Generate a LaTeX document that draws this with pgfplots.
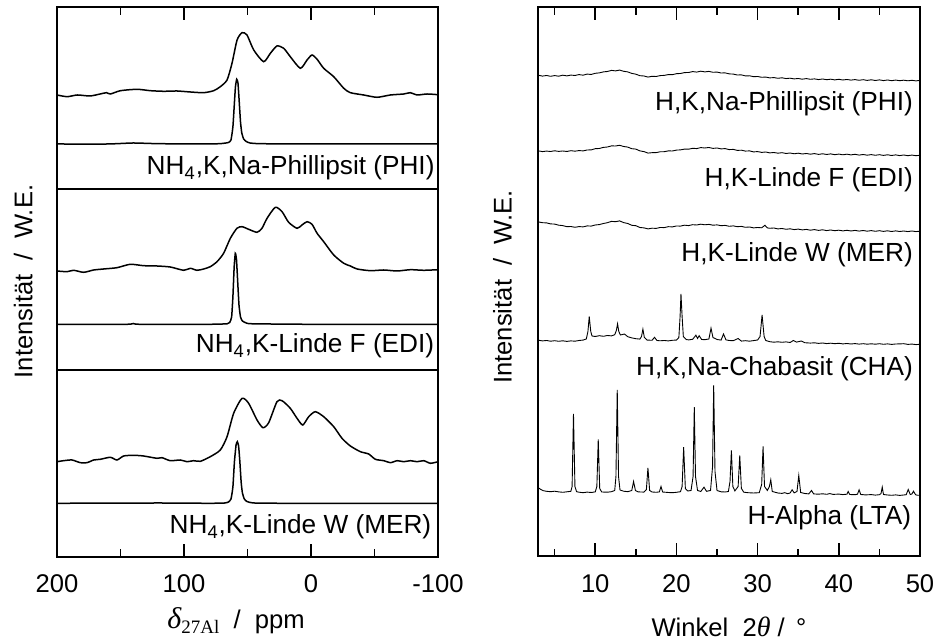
\documentclass[border=0pt]{standalone}
\usepackage{fontspec}
\setmainfont{Liberation Sans}
\newfontfamily\serif{Liberation Serif}
\usepackage{pgfplots}
\pgfplotsset{compat=1.18}
\tikzset{lab/.style={anchor=base east, font=\fontsize{13.1}{14}\selectfont, inner sep=0pt}}
\begin{document}
\begin{tikzpicture}
\path[use as bounding box] (0,0) rectangle (468pt,320.5pt);
\pgfplotsset{
  common/.style={
    scale only axis, anchor=south west,
    axis line style={line width=1pt},
    ytick=\empty,
    tick align=inside,
    major tick length=6.5pt, minor tick length=3.8pt,
    every tick/.style={black, line width=0.8pt},
    tick label style={font=\fontsize{12.8}{14}\selectfont},
    xticklabel style={anchor=base, yshift=-18pt},
    /pgf/number format/assume math mode=true,
  },
}
% ---------------- left panel: 27Al NMR ----------------
\begin{axis}[common, at={(28.5pt,42pt)}, width=190.5pt, height=275pt,
  x dir=reverse, xmin=-100, xmax=200, ymin=0, ymax=550,
  xtick={-100,0,100,200}, xticklabels={-100,0,100,200},
  minor xtick={-50,50,150}]
% dividers
\draw[line width=1pt] (axis cs:200,368) -- (axis cs:-100,368);
\draw[line width=1pt] (axis cs:200,187) -- (axis cs:-100,187);
% PHI broad
\addplot[black, line width=0.75pt, smooth, tension=0.4] coordinates {
(200,462) (192,460.3) (184,462) (174,461) (166,463) (161,464.3) (158,463) (150,466.3)
(137,467.7) (126.5,466.3) (116,465.7) (105.5,466) (95,465) (84.5,464.3) (76.6,466.3)
(71.4,470.3) (66.1,477) (62.2,493.7) (58.2,517) (54.3,524.3) (50.4,522) (45.1,507)
(37.3,495.3) (32,503.7) (26.8,511) (21.5,508.7) (16.3,500.3) (8.4,488.7) (3.1,497)
(-0.8,502) (-4.8,497.7) (-10,488.7) (-17.9,480.3) (-25.8,468.7) (-31,464.3) (-41.5,462)
(-52,459.7) (-62.5,462) (-73,463) (-78.3,464.3) (-83.5,462) (-91.4,463) (-100,462.3)};
% PHI sharp
\addplot[black, line width=0.75pt, smooth, tension=0.3] coordinates {
(200,413) (160,413) (140,414) (120,413.3) (80,413) (70,413.5) (65,414.5) (63,417)
(61.5,430) (60.5,450) (59.5,470) (58.5,477.7) (57.5,474) (56.5,455) (55.5,435) (54.5,424)
(53,418) (51,415.5) (48,414) (40,413.3) (0,413) (-100,413)};
% EDI broad
\addplot[black, line width=0.75pt, smooth, tension=0.4] coordinates {
(200,286) (192.1,285.3) (186.9,286.7) (179,284.7) (171.1,287) (163.3,288) (152.8,289.3)
(142.3,292.7) (131.8,291.3) (121.3,291) (110.8,290) (100.3,286.7) (95,288.7) (89.8,286.7)
(84.5,288) (79.3,290.3) (74,295.3) (68.8,303.7) (63.5,318.7) (58.3,328.7) (54.3,330.3)
(49.1,327.7) (42.5,324.7) (38.6,328.7) (34.6,338.7) (28.1,349.7) (22.8,345.3) (17.6,334.7)
(11,328.7) (7.1,332) (3.1,335.3) (-0.8,332.7) (-4.8,323.7) (-10,315.3) (-17.9,302)
(-25.8,293.7) (-31,291) (-36.3,288) (-46.8,286.3) (-57.3,287) (-67.8,286) (-78.3,287.3)
(-88.8,286.7) (-100,287.3)};
% EDI sharp
\addplot[black, line width=0.75pt, smooth, tension=0.3] coordinates {
(200,232.7) (145,232.7) (140,233.5) (135,232.7) (80,232.7) (66,233.2) (64,234.5) (62.5,240)
(61.5,260) (60.5,290) (59.6,303.7) (58.7,298) (57.7,275) (56.7,252) (55.5,240) (54,236)
(51,234) (46,233.2) (0,232.7) (-100,232.7)};
% MER broad
\addplot[black, line width=0.75pt, smooth, tension=0.4] coordinates {
(200,95.3) (194.8,96.3) (188.2,97) (181.6,94.3) (176.4,94.3) (171.1,97) (165.9,97.7)
(158,99.7) (152.8,97) (147.5,101) (139.6,101.7) (131.8,101) (121.3,98.7) (117.3,99.3)
(110.8,96.3) (102.9,97) (97.6,95.3) (92.4,96.3) (87.1,95.7) (79.3,100.3) (71.4,107)
(66.1,120.3) (60.9,143.7) (54.3,158.7) (49.1,153.7) (42.5,137) (37.8,129.3) (33.3,134.3)
(26.8,155.3) (22.8,156.3) (16.3,148.7) (11,138.7) (6.5,132) (1.8,140.3) (-3.4,145.3)
(-10,140.3) (-17.9,130.3) (-24.4,118.7) (-31,111) (-38.9,105.3) (-45.4,103) (-50.7,97.7)
(-57.3,96.3) (-62.5,94.3) (-67.8,96.3) (-73,95.3) (-78.3,96.3) (-83.5,95.3) (-88.8,96.3)
(-94,93.7) (-100,95.3)};
% MER sharp
\addplot[black, line width=0.75pt, smooth, tension=0.3] coordinates {
(200,53.7) (120,54) (80,53.7) (68,54) (65,55) (63,58) (61.5,70) (60.3,95) (59,112)
(58,115.3) (57,111) (56,95) (55,75) (54,64) (52.5,58) (50.5,55.5) (47,54.3) (40,53.8)
(0,53.7) (-100,53.7)};
\node[lab] at (axis cs:-97.6,382) {NH\textsubscript{4},K,Na-Phillipsit (PHI)};
\node[lab] at (axis cs:-97.3,204.3) {NH\textsubscript{4},K-Linde F (EDI)};
\node[lab] at (axis cs:-95,23) {NH\textsubscript{4},K-Linde W (MER)};
\end{axis}
% ---------------- right panel: XRD ----------------
\begin{axis}[common, at={(269.2pt,42.25pt)}, width=190.8pt, height=274.75pt,
  xmin=3, xmax=50, ymin=0, ymax=549.5,
  xtick={10,20,30,40,50}, minor xtick={5,15,25,35,45}]
% PHI
\addplot[black, line width=0.45pt] coordinates {
(3,481.2) (3.5,480.4) (4,481.0) (4.5,480.2) (5,480.9) (5.5,480.3) (6,481.3) (6.5,480.6)
(7,481.4) (7.5,481.0) (8,481.9) (8.5,481.3) (9,482.4) (9.5,482.0) (10,483.2) (10.5,483.6)
(11,484.6) (11.5,485.0) (12,486.1) (12.5,485.6) (13,486.4) (13.5,485.2) (14,484.6) (14.5,483.1)
(15,482.3) (15.5,480.8) (16,480.5) (16.5,479.4) (17,480.2) (17.5,480.0) (18,480.9) (18.5,481.1)
(19,481.9) (19.5,481.8) (20,482.8) (20.5,483.0) (21,483.9) (21.5,484.0) (22,484.9) (22.5,484.4)
(23,485.3) (23.5,484.6) (24,485.1) (24.5,484.2) (25,484.4) (25.5,483.5) (26,483.6) (26.5,482.6)
(27,482.4) (27.5,481.5) (28,481.6) (28.5,480.6) (29,480.7) (29.5,479.8) (30,480.0) (30.5,479.2)
(31,479.4) (31.5,478.6) (32,478.9) (32.5,478.2) (33,478.7) (33.5,477.9) (34,478.3) (34.5,477.6)
(35,478.0) (35.5,477.3) (36,477.9) (36.5,477.2) (37,477.6) (37.5,476.9) (38,477.5) (38.5,476.8)
(39,477.3) (39.5,476.6) (40,477.2) (40.5,476.5) (41,477.0) (41.5,476.4) (42,476.9) (42.5,476.2)
(43,476.8) (43.5,476.1) (44,476.7) (44.5,476.0) (45,476.6) (45.5,475.9) (46,476.5) (46.5,475.8)
(47,476.4) (47.5,475.8) (48,476.3) (48.5,475.7) (49,476.2) (49.5,475.6) (50,476.1)};
% EDI
\addplot[black, line width=0.45pt] coordinates {
(3,405.6) (3.5,404.9) (4,405.4) (4.5,405.0) (5,405.7) (5.5,405.1) (6,405.5) (6.5,405.0)
(7,405.8) (7.5,405.3) (8,405.9) (8.5,405.6) (9,406.5) (9.5,406.6) (10,407.8) (10.5,408.0)
(11,409.1) (11.5,409.5) (12,410.6) (12.5,410.5) (13,411.2) (13.5,410.0) (14,409.4) (14.5,407.8)
(15,407.4) (15.5,405.6) (16,404.9) (16.5,403.4) (17,403.8) (17.5,403.9) (18,404.7) (18.5,404.8)
(19,405.6) (19.5,405.5) (20,406.4) (20.5,406.6) (21,407.4) (21.5,407.3) (22,408.2) (22.5,407.9)
(23,408.9) (23.5,408.5) (24,409.0) (24.5,408.1) (25,408.5) (25.5,407.6) (26,407.9) (26.5,406.9)
(27,407.1) (27.5,406.1) (28,406.3) (28.5,405.4) (29,405.6) (29.5,404.6) (30,404.9) (30.5,404.1)
(31,404.5) (31.5,403.6) (32,404.0) (32.5,403.3) (33,403.8) (33.5,403.0) (34,403.5) (34.5,402.7)
(35,403.3) (35.5,402.5) (36,403.0) (36.5,402.3) (37,402.9) (37.5,402.1) (38,402.7) (38.5,402.0)
(39,402.6) (39.5,401.8) (40,402.4) (40.5,401.7) (41,402.3) (41.5,401.6) (42,402.2) (42.5,401.4)
(43,402.0) (43.5,401.3) (44,401.9) (44.5,401.2) (45,401.8) (45.5,401.1) (46,401.7) (46.5,401.0)
(47,401.6) (47.5,400.9) (48,401.5) (48.5,400.8) (49,401.4) (49.5,400.8) (50,401.2)};
% MER
\addplot[black, line width=0.45pt] coordinates {
(3,334.6) (3.5,333.8) (4,333.6) (4.5,332.6) (5,332.4) (5.5,331.3) (6,330.9) (6.5,329.8)
(7,330.0) (7.5,329.2) (8,329.9) (8.5,329.6) (9,330.6) (9.5,330.4) (10,331.5) (10.5,331.9)
(11,333.0) (11.5,333.8) (12,335.1) (12.5,334.8) (13,335.6) (13.5,333.9) (14,333.0) (14.5,331.2)
(15,330.8) (15.5,329.0) (16,328.6) (16.5,327.6) (17,328.3) (17.5,328.1) (18,329.0) (18.5,328.9)
(19,329.8) (19.5,329.6) (20,330.5) (20.5,330.4) (21,331.3) (21.5,330.9) (22,331.8) (22.5,331.5)
(23,332.3) (23.5,331.7) (24,332.1) (24.5,331.3) (25,331.6) (25.5,330.8) (26,331.1) (26.5,330.2)
(27,330.6) (27.5,329.8) (28,330.1) (28.5,329.2) (29,329.5) (29.5,328.6) (30,329.0) (30.5,328.7)
(30.9,331.2) (31.2,328.6) (31.5,328.2) (32,328.5) (32.5,327.6) (33,328.0) (33.5,327.2) (34,327.7)
(34.5,326.9) (35,327.4) (35.5,326.6) (36,327.1) (36.5,326.3) (37,326.9) (37.5,326.1) (38,326.7)
(38.5,325.9) (39,326.5) (39.5,325.8) (40,326.3) (40.5,325.6) (41,326.2) (41.5,325.5) (42,326.1)
(42.5,325.4) (43,326.0) (43.5,325.3) (44,325.9) (44.5,325.2) (45,325.8) (45.5,325.1) (46,325.7)
(46.5,325.0) (47,325.6) (47.5,325.0) (48,325.5) (48.5,324.9) (49,325.5) (49.5,324.9) (50,325.3)};
% CHA
\addplot[black, line width=0.45pt] coordinates {
(3,216.3) (3.5,215.6) (4,216.0) (4.5,215.3) (5,215.8) (5.5,215.2) (6,215.7) (6.5,215.1)
(7,215.6) (7.5,215.3) (8,216.0) (8.5,216.4) (8.9,217.5) (9.1,225) (9.26,240) (9.45,225)
(9.6,220.5) (10,220.0) (10.5,220.8) (11,220.2) (11.5,221.0) (12,220.6) (12.4,221.8) (12.6,226)
(12.75,232.7) (12.9,225) (13.1,221.5) (13.6,222.5) (14,219.8) (14.5,218.6) (15,217.8) (15.5,217.4)
(15.7,220) (15.87,227.3) (16.05,219) (16.4,216.4) (17,216.2) (17.3,219.2) (17.6,216.0) (18,215.7)
(18.5,216.0) (19,215.6) (19.5,216.2) (20,216.4) (20.3,219) (20.45,240) (20.56,262.5) (20.7,240)
(20.85,220) (21.2,217.0) (21.5,216.6) (22,217.2) (22.4,221.3) (22.6,218) (22.8,220.8) (23.1,217.0)
(23.5,216.8) (24,217.5) (24.26,228.3) (24.5,219) (25,217) (25.5,216.4) (25.8,222.5) (26.1,216.6)
(26.5,216.0) (27,215.8) (27.6,218) (28,215.4) (28.5,215.8) (29,215.3) (29.5,215.9) (30,216.5)
(30.3,220) (30.55,241.5) (30.8,220) (31,216) (31.5,214.8) (32,214.3) (32.5,214.7) (33,214.2)
(33.5,214.6) (34,214.0) (34.4,216) (34.8,214.4) (35.4,215.5) (35.8,213.8) (36.5,213.4) (37,213.7)
(37.5,213.1) (38,213.5) (38.5,212.9) (39,213.3) (39.5,212.8) (40,213.2) (40.5,212.6) (41,213.0)
(41.5,212.5) (42,212.9) (42.5,212.4) (43,212.8) (43.5,212.3) (44,212.7) (44.5,212.3) (45,212.8)
(45.5,212.2) (46,212.6) (46.5,212.1) (47,212.5) (47.5,212.6) (48,212.8) (48.5,212.1) (49,212.4)
(49.5,211.9) (50,212.2)};
% LTA
\addplot[black, line width=0.45pt] coordinates {
(3,68.7) (3.3,67.0) (3.6,65.8) (4,65.2) (4.5,64.8) (5,65.3) (5.5,64.6) (6,64.2) (6.5,64.7)
(7,65.2) (7.15,70) (7.32,142.7) (7.5,70) (7.7,64.8) (8,64.3) (8.5,63.8) (9,64.4) (9.5,64.0)
(10,64.6) (10.2,70) (10.37,117) (10.55,68) (10.8,64.5) (11.5,64.3) (12,64.8) (12.4,66)
(12.55,80) (12.71,166.7) (12.87,80) (13.05,66.5) (13.5,65.3) (14,64.8) (14.5,66) (14.72,75)
(14.95,66) (15.3,64.6) (16,64.4) (16.3,67) (16.49,88.7) (16.7,66) (17,64.5) (17.5,64.2)
(17.9,64.6) (18.1,70) (18.3,64.5) (19,64.0) (19.5,63.8) (20,64.2) (20.5,64.8) (20.7,70)
(20.89,109.3) (21.1,68) (21.4,65.5) (21.8,66) (22.05,80) (22.2,149.3) (22.35,80) (22.6,66)
(23,65) (23.4,69.3) (23.7,65.2) (24.2,66) (24.45,90) (24.59,171) (24.75,85) (25,66)
(25.5,64.7) (26,64.5) (26.4,65) (26.6,75) (26.77,106) (26.95,70) (27.2,65.6) (27.6,70)
(27.8,101) (28,68) (28.3,64.3) (28.8,63.8) (29.5,63.5) (30.2,63.8) (30.5,72) (30.67,110)
(30.85,70) (31.2,66) (31.45,70) (31.62,76.7) (31.8,65) (32.5,63.5) (33,63.1) (33.35,63.8)
(33.7,62.8) (34,63.5) (34.25,66.7) (34.5,63.6) (34.85,65) (35.07,81) (35.3,64) (35.8,63.0)
(36.3,62.6) (36.64,66) (36.9,62.6) (37.5,62.3) (38,62.7) (38.5,62.2) (38.9,62.9) (39.3,62.1)
(40,62.4) (40.5,61.9) (41,62.3) (41.15,65) (41.35,62.0) (42,61.8) (42.3,62.3) (42.5,66.7)
(42.7,62.0) (43.3,61.6) (44,61.9) (44.5,61.4) (45,61.8) (45.2,63) (45.35,69.3) (45.5,62)
(46,61.5) (46.5,61.2) (47,61.6) (47.5,61.1) (48,61.5) (48.3,61.8) (48.55,67) (48.8,62)
(49,62.5) (49.2,65.3) (49.45,61.8) (49.7,61.2) (50,61.3)};
\node[lab] at (axis cs:49.17,446) {H,K,Na-Phillipsit (PHI)};
\node[lab] at (axis cs:49.17,370.3) {H,K-Linde F (EDI)};
\node[lab] at (axis cs:49.17,295) {H,K-Linde W (MER)};
\node[lab] at (axis cs:49.17,181) {H,K,Na-Chabasit (CHA)};
\node[lab] at (axis cs:48.95,32) {H-Alpha (LTA)};
\end{axis}
% axis titles
\node[anchor=base, font=\fontsize{12.8}{14}\selectfont] at (118pt,6.35pt) {{\serif\itshape\fontsize{15}{16}\selectfont δ}\raisebox{-0.4ex}{\serif\fontsize{9.5}{10}\selectfont 27Al}\ \ /\ \ ppm};
\node[anchor=base, font=\fontsize{12.8}{14}\selectfont] at (364.5pt,2.15pt) {Winkel\ \ 2{\serif\itshape\fontsize{14}{15}\selectfont θ}\ /\ \,°};
\node[anchor=base, rotate=90, font=\fontsize{12.8}{14}\selectfont] at (16.2pt,179.75pt) {Intensität\ \ /\ \ W.E.};
\node[anchor=base, rotate=90, font=\fontsize{12.8}{14}\selectfont] at (255.8pt,177pt) {Intensität\ \ /\ \ W.E.};
\end{tikzpicture}
\end{document}
